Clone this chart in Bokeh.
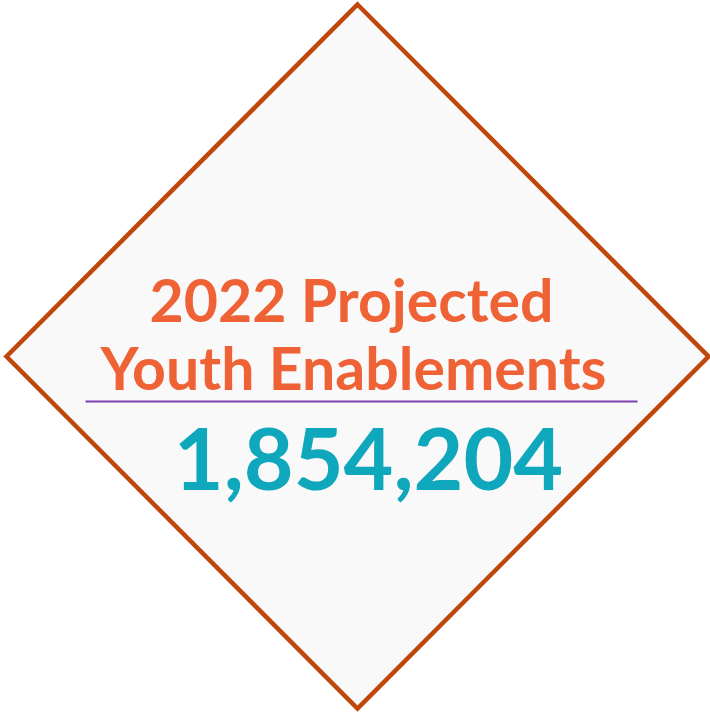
from bokeh.plotting import figure
from bokeh.models import Range1d
from bokeh.embed import file_html
from bokeh.resources import INLINE
from bokeh.core.properties import value

# ---- data ----
title_lines = ["2022 Projected", "Youth Enablements"]
projected_value = 1854204
value_label = f"{projected_value:,}"

# ---- layout (pixel coordinates) ----
W, H = 710, 714
cx, cy = 357, 356
hw, hh = 351, 352

p = figure(width=W, height=H, output_backend="svg", toolbar_location=None,
           x_range=Range1d(0, W), y_range=Range1d(H, 0),
           min_border=0, background_fill_color="white", border_fill_color="white")
p.axis.visible = False
p.grid.visible = False
p.outline_line_color = None

# diamond
p.patch([cx, cx + hw, cx, cx - hw], [cy - hh, cy, cy + hh, cy],
        fill_color="#f9f9f9", line_color="#c0470c", line_width=4.5, line_join="miter")

# title
p.text(x=[351, 353], y=[299, 367], text=title_lines,
       text_font=value("Lato"), text_font_style="bold", text_font_size="59px",
       text_color="#ee6236", text_align="center", text_baseline="alphabetic")

# divider
p.line([85, 637], [401, 401], line_color="#7b3fb3", line_width=2)

# number
p.text(x=[368], y=[458], text=[value_label],
       text_font=value("Lato"), text_font_style="bold", text_font_size="86px",
       text_color="#0fa7bc", text_align="center", text_baseline="alphabetic")

open("out.html", "w").write(file_html(p, INLINE))
